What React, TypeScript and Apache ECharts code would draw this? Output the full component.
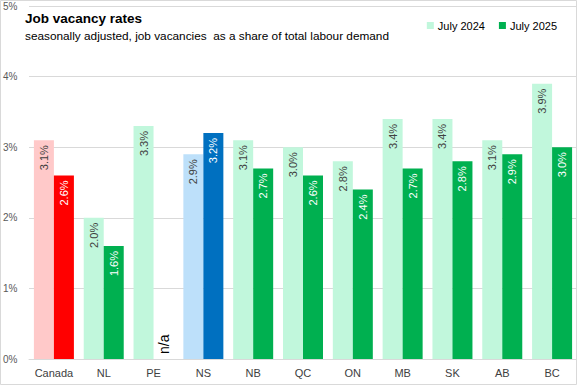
import React, { useEffect, useRef } from "react";
import * as echarts from "echarts";

const categories = ["Canada", "NL", "PE", "NS", "NB", "QC", "ON", "MB", "SK", "AB", "BC"];
const july2024 = [3.1, 2.0, 3.3, 2.9, 3.1, 3.0, 2.8, 3.4, 3.4, 3.1, 3.9];
const july2025: (number | null)[] = [2.6, 1.6, null, 3.2, 2.7, 2.6, 2.4, 2.7, 2.8, 2.9, 3.0];
const yTicks = [0, 1, 2, 3, 4, 5];

const FONT = "'Liberation Sans', Arial, sans-serif";

const LIGHT_GREEN = "#C1F7DC";
const GREEN = "#00B050";
const highlightLight: Record<string, string> = { Canada: "#FFC9C9", NS: "#BDE0FA" };
const highlightDark: Record<string, string> = { Canada: "#FF0000", NS: "#0070C0" };

export default function App() {
  const ref = useRef<HTMLDivElement>(null);
  useEffect(() => {
    if (!ref.current) return;
    const chart = echarts.init(ref.current, null, { renderer: "svg" });
    const fmt = (p: any) => (typeof p.value === "number" ? p.value.toFixed(1) + "%" : "");
    const topLabel = (color: string) => ({
      show: true,
      position: "insideTop",
      rotate: 90,
      align: "right",
      verticalAlign: "middle",
      distance: 5,
      color,
      fontSize: 11,
      fontFamily: FONT,
      formatter: fmt,
    });
    const s1 = july2024.map((v, i) => {
      const c = categories[i];
      return highlightLight[c] ? { value: v, itemStyle: { color: highlightLight[c] } } : { value: v };
    });
    const s2 = july2025.map((v, i) => {
      const c = categories[i];
      if (v === null) {
        return {
          value: 0,
          label: {
            show: true,
            position: "insideBottom",
            rotate: 90,
            align: "left",
            verticalAlign: "middle",
            distance: 5,
            color: "#000",
            fontSize: 14,
            fontFamily: FONT,
            formatter: "n/a",
          },
        };
      }
      return highlightDark[c] ? { value: v, itemStyle: { color: highlightDark[c] } } : { value: v };
    });
    chart.setOption({
      animation: false,
      textStyle: { fontFamily: FONT },
      title: {
        text: "Job vacancy rates",
        subtext: "seasonally adjusted, job vacancies  as a share of total labour demand",
        left: 20,
        top: 6,
        itemGap: 5,
        textStyle: { fontSize: 13.5, fontWeight: "bold", color: "#000", fontFamily: FONT },
        subtextStyle: { fontSize: 11.8, color: "#000", fontFamily: FONT },
      },
      legend: {
        right: 15,
        top: 15,
        itemWidth: 7,
        itemHeight: 7,
        itemGap: 14,
        icon: "rect",
        textStyle: { fontSize: 11, color: "#000", fontFamily: FONT, padding: [0, 0, 0, -1] },
        data: ["July 2024", "July 2025"],
      },
      grid: { left: 29, right: 0, top: 6, bottom: 26 },
      xAxis: {
        type: "category",
        data: categories,
        axisLine: { lineStyle: { color: "#D9D9D9" } },
        axisTick: { show: false },
        axisLabel: { interval: 0, color: "#404040", fontSize: 11, margin: 8, fontFamily: FONT },
      },
      yAxis: {
        type: "value",
        min: yTicks[0],
        max: yTicks[yTicks.length - 1],
        interval: 1,
        axisLabel: {
          formatter: "{value}%",
          align: "left",
          margin: 26,
          color: "#595959",
          fontSize: 10,
          fontFamily: FONT,
        },
        axisLine: { show: false },
        axisTick: { show: false },
        splitLine: { lineStyle: { color: "#D9D9D9" } },
      },
      series: [
        {
          name: "July 2024",
          type: "bar",
          barWidth: 20,
          barGap: "0%",
          itemStyle: { color: LIGHT_GREEN },
          label: topLabel("#404040"),
          data: s1,
        },
        {
          name: "July 2025",
          type: "bar",
          barWidth: 20,
          itemStyle: { color: GREEN },
          label: topLabel("#FFFFFF"),
          data: s2,
        },
      ],
      graphic: [
        {
          type: "rect",
          shape: { x: 0.5, y: 0.5, width: 576, height: 384 },
          style: { fill: "none", stroke: "#D9D9D9", lineWidth: 1 },
          z: 100,
          silent: true,
        },
      ],
    });
    return () => chart.dispose();
  }, []);
  return (
    <div
      ref={ref}
      style={{ position: "fixed", left: 0, top: 0, width: 577, height: 385, background: "#fff" }}
    />
  );
}
